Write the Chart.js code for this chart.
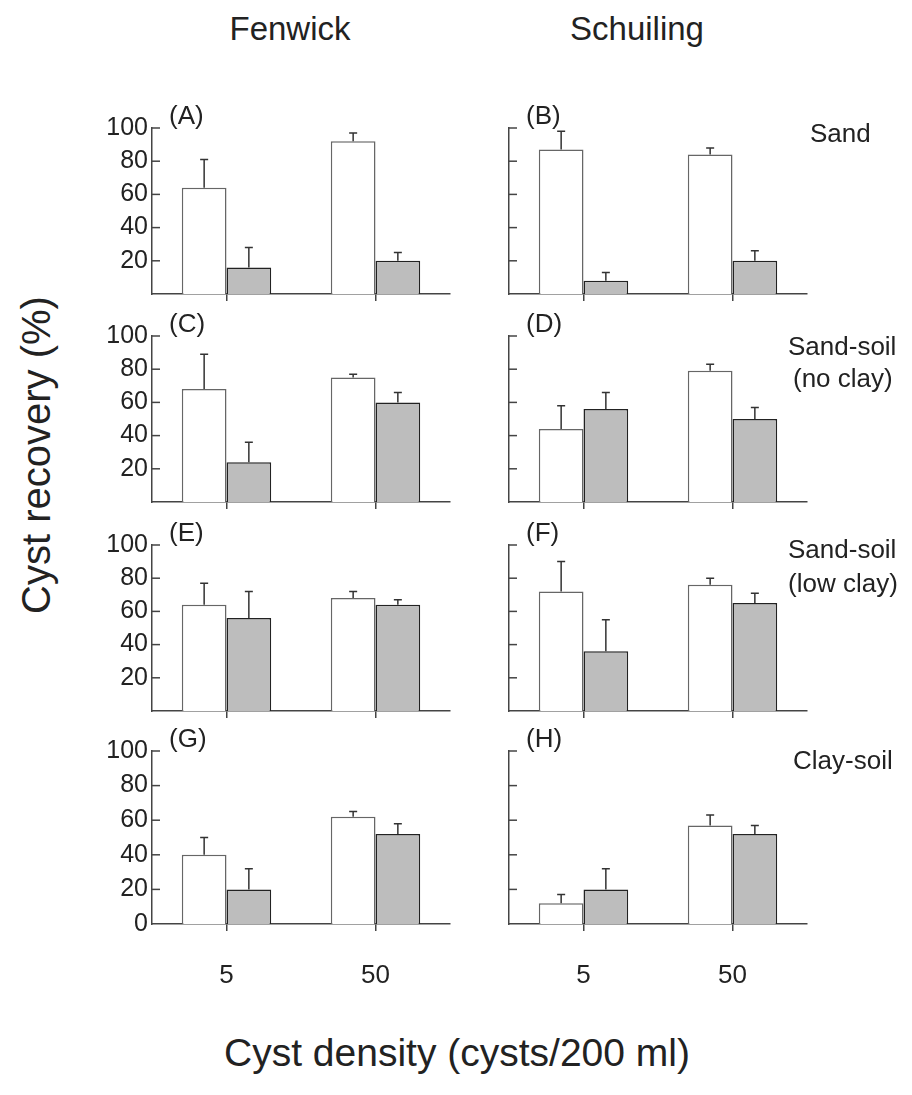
<!DOCTYPE html>
<html>
<head>
<meta charset="utf-8">
<script src="https://cdn.jsdelivr.net/npm/chart.js@4.4.0/dist/chart.umd.min.js"></script>
<style>
  body { margin: 0; background: #fff; width: 912px; height: 1095px; position: relative; overflow: hidden;
         font-family: "Liberation Sans", Arial, sans-serif; color: #222; }
  .t { position: absolute; white-space: nowrap; line-height: 1; transform: translate(-50%, -50%); }
  .l { position: absolute; white-space: nowrap; line-height: 1; transform: translateY(-50%); }
  canvas { position: absolute; }
</style>
</head>
<body>
<script>
// x categories (cyst density, cysts/200 ml)
var densities = ['5', '50'];
var varieties = ['Fenwick', 'Schuiling'];
var panelTags = ['(A)', '(B)', '(C)', '(D)', '(E)', '(F)', '(G)', '(H)'];
var soils = [['Sand'], ['Sand-soil', '(no clay)'], ['Sand-soil', '(low clay)'], ['Clay-soil']];

// recovery (%) per panel A..H, [5, 50]
var openMeans = [[64, 92], [87, 84], [68, 75], [44, 79], [64, 68], [72, 76], [40, 62], [12, 57]];
var openErr   = [[17, 5],  [11, 4],  [21, 2],  [14, 4],  [13, 4],  [18, 4],  [10, 3],  [5, 6]];
var greyMeans = [[16, 20], [8, 20],  [24, 60], [56, 50], [56, 64], [36, 65], [20, 52], [20, 52]];
var greyErr   = [[12, 5],  [5, 6],   [12, 6],  [10, 7],  [16, 3],  [19, 6],  [12, 6],  [12, 5]];

var font = '"Liberation Sans", Arial, sans-serif';
var ink = '#222';
var axisInk = '#444';

// panel layout (pixels)
var colAxisX = [152, 509];
var rowTop = [123, 331, 540, 746];
var plotW = 298, plotH = 178;
var padL = 80, padT = 14, padR = 8;

function addText(txt, x, y, size, cls) {
  var d = document.createElement('div');
  d.className = cls || 't';
  d.textContent = txt;
  d.style.left = x + 'px';
  d.style.top = y + 'px';
  d.style.fontSize = size + 'px';
  document.body.appendChild(d);
  return d;
}

// inward tick marks on the y axis
var innerTicks = {
  id: 'innerTicks',
  afterDraw: function(chart) {
    var y = chart.scales.y, ctx = chart.ctx, left = chart.chartArea.left;
    ctx.save();
    ctx.strokeStyle = axisInk;
    ctx.lineWidth = 1.5;
    y.ticks.forEach(function(t) {
      if (t.value === 0) return;
      var py = y.getPixelForValue(t.value);
      ctx.beginPath();
      ctx.moveTo(left, py);
      ctx.lineTo(left + 8, py);
      ctx.stroke();
    });
    ctx.restore();
  }
};

// upper error bars (+SE)
var errorBars = {
  id: 'errorBars',
  afterDatasetsDraw: function(chart) {
    var ctx = chart.ctx, y = chart.scales.y;
    ctx.save();
    ctx.strokeStyle = '#333';
    ctx.lineWidth = 1.5;
    chart.data.datasets.forEach(function(ds, i) {
      chart.getDatasetMeta(i).data.forEach(function(bar, j) {
        var top = y.getPixelForValue(ds.data[j] + ds.errors[j]);
        ctx.beginPath();
        ctx.moveTo(bar.x, bar.y);
        ctx.lineTo(bar.x, top);
        ctx.moveTo(bar.x - 4, top);
        ctx.lineTo(bar.x + 4, top);
        ctx.stroke();
      });
    });
    ctx.restore();
  }
};

function makePanel(p) {
  var col = p % 2, row = Math.floor(p / 2);
  var padB = row === 3 ? 70 : 12;
  var c = document.createElement('canvas');
  c.width = padL + plotW + padR;
  c.height = padT + plotH + padB;
  c.style.left = (colAxisX[col] - padL) + 'px';
  c.style.top = (rowTop[row] - padT) + 'px';
  document.body.appendChild(c);

  new Chart(c.getContext('2d'), {
    type: 'bar',
    data: {
      labels: densities,
      datasets: [{
        data: openMeans[p],
        errors: openErr[p],
        backgroundColor: '#ffffff',
        borderColor: '#666',
        borderWidth: 1.5,
        barPercentage: 1,
        categoryPercentage: 0.6
      }, {
        data: greyMeans[p],
        errors: greyErr[p],
        backgroundColor: '#bdbdbd',
        borderColor: '#222',
        borderWidth: 1.5,
        barPercentage: 1,
        categoryPercentage: 0.6
      }]
    },
    options: {
      responsive: false,
      animation: false,
      layout: { padding: { left: 0, right: padR, top: padT, bottom: 0 } },
      plugins: { legend: { display: false }, tooltip: { enabled: false } },
      scales: {
        x: {
          grid: { display: true, drawOnChartArea: false, offset: false, tickLength: 7, color: axisInk, lineWidth: 1.5 },
          border: { display: true, color: axisInk, width: 1.5 },
          ticks: { display: row === 3, padding: 29, color: ink, font: { size: 26, family: font } },
          afterFit: function(s) { s.height = padB; }
        },
        y: {
          min: 0,
          max: 100,
          grid: { display: false, drawTicks: false },
          border: { display: true, color: axisInk, width: 1.5 },
          ticks: {
            stepSize: 20,
            padding: 4,
            color: ink,
            font: { size: 25, family: font },
            callback: function(v) { return (col === 0 && (v > 0 || row === 3)) ? v : ''; }
          },
          afterFit: function(s) { s.width = padL; }
        }
      }
    },
    plugins: [innerTicks, errorBars]
  });

  addText(panelTags[p], colAxisX[col] + 17, rowTop[row] - 8, 26, 'l');
}

for (var p = 0; p < 8; p++) makePanel(p);

addText(varieties[0], 290, 28, 33);
addText(varieties[1], 637, 28, 33);

addText(soils[0][0], 810, 133, 26, 'l');
addText(soils[1][0], 788, 346, 26, 'l');
addText(soils[1][1], 793, 378, 26, 'l');
addText(soils[2][0], 788, 549, 26, 'l');
addText(soils[2][1], 788, 583, 26, 'l');
addText(soils[3][0], 793, 760, 26, 'l');

addText('Cyst density (cysts/200 ml)', 457, 1052, 39);
var yt = addText('Cyst recovery (%)', 36, 455, 40);
yt.style.transform = 'translate(-50%, -50%) rotate(-90deg)';
</script>
</body>
</html>
